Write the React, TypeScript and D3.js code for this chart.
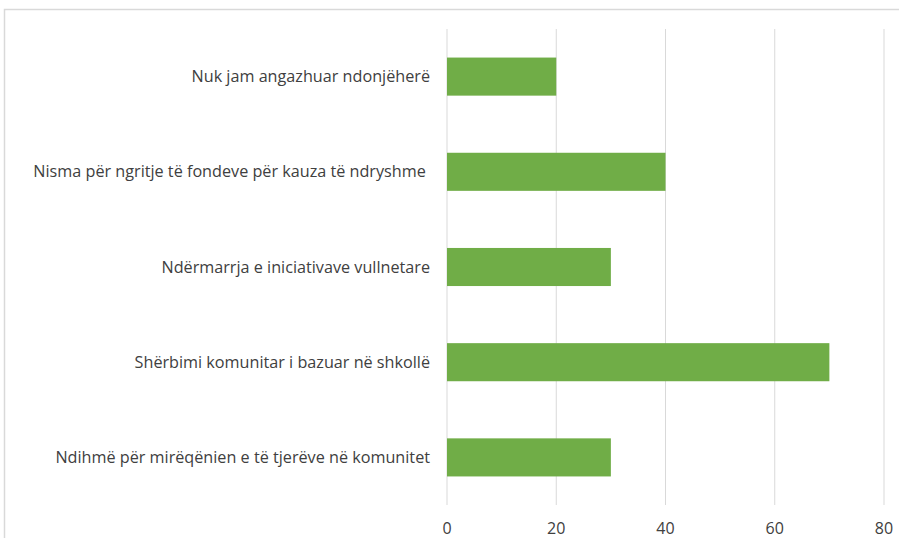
import React from "react";
import * as d3 from "d3";

const categories = [
  "Nuk jam angazhuar ndonjëherë",
  "Nisma për ngritje të fondeve për kauza të ndryshme ",
  "Ndërmarrja e iniciativave vullnetare",
  "Shërbimi komunitar i bazuar në shkollë",
  "Ndihmë për mirëqënien e të tjerëve në komunitet",
];
const values = [20, 40, 30, 70, 30];
const ticks = [0, 20, 40, 60, 80];

export default function App() {
  const W = 899, H = 538;
  const x = d3.scaleLinear().domain([0, 80]).range([447, 884]);
  const y = d3.scaleBand<string>().domain(categories).range([29, 505]).paddingInner(0.6).paddingOuter(0.3);
  const font = "'Open Sans', sans-serif";
  return (
    <svg width={W} height={H} style={{ position: "absolute", left: 0, top: 0 }}>
      <rect x={0} y={0} width={W} height={H} fill="#fff" />
      <rect x={4.5} y={9.5} width={W + 10} height={H + 10} fill="none" stroke="#d9d9d9" strokeWidth={1.5} />
      {ticks.map((t) => (
        <line key={t} x1={x(t)} x2={x(t)} y1={29} y2={505} stroke="#d9d9d9" strokeWidth={1} />
      ))}
      {categories.map((c, i) => (
        <rect key={c} x={x(0)} y={y(c)} width={x(values[i]) - x(0)} height={y.bandwidth()} fill="#70AD47" />
      ))}
      {categories.map((c) => (
        <text key={c} x={430} y={(y(c) ?? 0) + y.bandwidth() / 2} dy="0.35em" textAnchor="end"
          fontFamily={font} fontSize={16.2} fill="#404040" style={{ whiteSpace: "pre" }}>{c}</text>
      ))}
      {ticks.map((t) => (
        <text key={t} x={x(t)} y={528} dy="0.35em" textAnchor="middle" fontFamily={font} fontSize={16} fill="#404040">{t}</text>
      ))}
    </svg>
  );
}
